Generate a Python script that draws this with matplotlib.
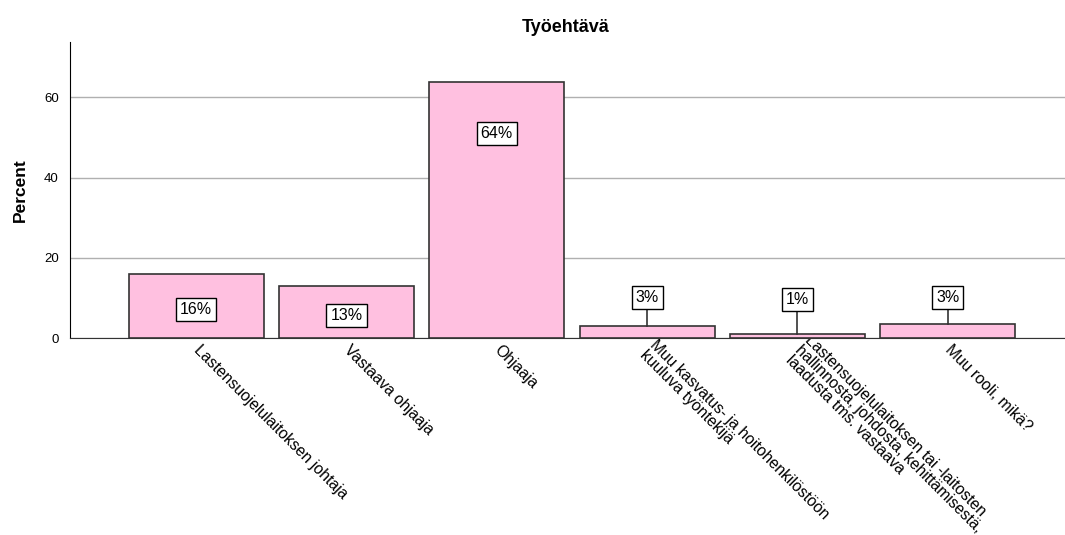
import matplotlib.pyplot as plt
import numpy as np

plt.rcParams['font.family'] = ['Liberation Sans', 'DejaVu Sans']

categories = [
    'Lastensuojelulaitoksen johtaja',
    'Vastaava ohjaaja',
    'Ohjaaja',
    'Muu kasvatus- ja hoitohenkilöstöön\nkuuluva työntekijä',
    'Lastensuojelulaitoksen tai -laitosten\nhallinnosta, johdosta, kehittämisestä,\nlaadusta tms. vastaava',
    'Muu rooli, mikä?',
]
percent = [15.9, 12.9, 63.7, 3.0, 1.0, 3.4]
labels = ['16%', '13%', '64%', '3%', '1%', '3%']

# where the % boxes sit (data units), and whether they hang outside the bar
label_y = [7.2, 5.7, 51.0, 10.2, 9.5, 10.2]
outside = [False, False, False, True, True, True]

fig = plt.figure(figsize=(10.65, 5.35), dpi=100)
ax = fig.add_axes([0.0657, 0.368, 0.9343, 0.553])

x = np.arange(len(categories))
ax.bar(x, percent, width=0.9, color='#ffc0e0', edgecolor='#333333', linewidth=1.2, zorder=3)

for i in range(len(x)):
    if outside[i]:
        ax.plot([x[i], x[i]], [percent[i], label_y[i] - 1.8], color='#333333', lw=1.2, zorder=4)
    ax.text(x[i], label_y[i], labels[i], ha='center', va='center', fontsize=11.5, zorder=5,
            bbox=dict(boxstyle='square,pad=0.25', fc='white', ec='black', lw=1))

ax.set_xlim(-0.84, 5.78)
ax.set_ylim(0, 73.7)
ax.set_yticks([0, 20, 40, 60])
ax.tick_params(axis='y', length=0, labelsize=9.5, pad=8)
ax.yaxis.grid(True, color='#b0b0b0', lw=1, zorder=0)
ax.set_axisbelow(True)

ax.set_xticks(x)
ax.set_xticklabels(categories, rotation=-45, rotation_mode='anchor', ha='left', va='center',
                   fontsize=11.3, linespacing=0.9)
ax.tick_params(axis='x', length=0, pad=7)

for s in ['top', 'right']:
    ax.spines[s].set_visible(False)
ax.spines['left'].set_color('black')
ax.spines['bottom'].set_color('#333333')

ax.set_ylabel('Percent', fontsize=12.5, fontweight='bold', labelpad=12)
fig.text(0.5315, 0.949, 'Työehtävä', ha='center', va='center', fontsize=13, fontweight='bold')

fig.savefig('out.png', dpi=100)
